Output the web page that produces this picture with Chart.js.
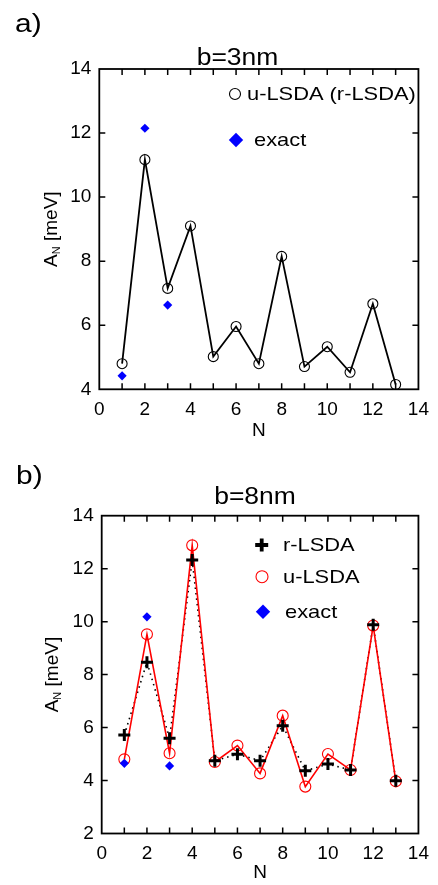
<!DOCTYPE html>
<html><head><meta charset="utf-8">
<script src="https://cdn.jsdelivr.net/npm/chart.js@4.4.0/dist/chart.umd.min.js"></script>
<style>
html,body{margin:0;padding:0;background:#fff;}
#wrap{position:relative;width:438px;height:885px;overflow:hidden;background:#fff;}
.box{position:absolute;left:0;width:438px;}
</style></head><body>
<div id="wrap">
<div class="box" style="top:0;height:440px"><canvas id="c1"></canvas></div>
<div class="box" style="top:440px;height:445px"><canvas id="c2"></canvas></div>
</div>
<script>
// ---- data ----
const nValues = [1,2,3,4,5,6,7,8,9,10,11,12,13];
const exactN = [1,2,3];
// panel a) b=3nm
const aULSDA = [4.80,11.17,7.15,9.10,5.02,5.96,4.80,8.15,4.71,5.33,4.53,6.67,4.15];
const aExact = [4.42,12.15,6.63];
// panel b) b=8nm
const bRLSDA = [5.72,8.47,5.60,12.33,4.75,4.99,4.75,6.07,4.37,4.62,4.40,9.88,3.99];
const bULSDA = [4.80,9.52,5.03,12.88,4.70,5.32,4.27,6.45,3.77,5.00,4.40,9.85,3.97];
const bExact = [4.65,10.18,4.55];
// axis ranges / labels
const xRange = [0,14];
const aYRange = [4,14];
const bYRange = [2,14];
const panelLabels = ['a)','b)'];
const panelTitles = ['b=3nm','b=8nm'];
const xTitle = 'N';
const yTitleMain = 'A', yTitleSub = 'N', yTitleUnit = ' [meV]';

const F = "'Liberation Sans', Arial, Helvetica, sans-serif";
Chart.defaults.color = '#000';
Chart.defaults.font.family = F;

const pts = (xs, ys) => xs.map((x,i)=>({x:x, y:ys[i]}));

// frame with inward ticks on all four sides
const framePlugin = {
  id:'frame',
  afterDatasetsDraw(chart){
    const {ctx, chartArea:a, scales:{x,y}} = chart;
    ctx.save();
    ctx.strokeStyle='#000';
    ctx.lineWidth=1.8;
    ctx.strokeRect(a.left, a.top, a.right-a.left, a.bottom-a.top);
    ctx.lineWidth=1.5;
    const L=6;
    ctx.beginPath();
    for (let v=x.min+1; v<x.max; v++){
      const px=x.getPixelForValue(v);
      ctx.moveTo(px,a.bottom); ctx.lineTo(px,a.bottom-L);
      ctx.moveTo(px,a.top); ctx.lineTo(px,a.top+L);
    }
    for (let v=y.min+2; v<y.max; v+=2){
      const py=y.getPixelForValue(v);
      ctx.moveTo(a.left,py); ctx.lineTo(a.left+L,py);
      ctx.moveTo(a.right,py); ctx.lineTo(a.right-L,py);
    }
    ctx.stroke();
    ctx.restore();
  }
};

function marker(ctx, type, x, y, r, color, lw){
  ctx.save();
  ctx.strokeStyle=color; ctx.fillStyle=color; ctx.lineWidth=lw;
  ctx.beginPath();
  if (type==='circle'){ ctx.arc(x,y,r,0,Math.PI*2); ctx.stroke(); }
  else if (type==='diamond'){ ctx.moveTo(x,y-r); ctx.lineTo(x+r,y); ctx.lineTo(x,y+r); ctx.lineTo(x-r,y); ctx.closePath(); ctx.fill(); }
  else if (type==='cross'){ ctx.moveTo(x-r,y); ctx.lineTo(x+r,y); ctx.moveTo(x,y-r); ctx.lineTo(x,y+r); ctx.stroke(); }
  ctx.restore();
}

// horizontally stretched text (the reference glyphs are slightly wide)
function wideText(ctx, text, x, y, font, align, sx){
  ctx.save();
  ctx.font = font;
  ctx.textBaseline = 'middle';
  ctx.textAlign = align;
  ctx.translate(x, y);
  ctx.scale(sx, 1);
  ctx.fillText(text, 0, 0);
  ctx.restore();
}

// texts + legend
const textPlugin = {
  id:'texts',
  afterDraw(chart, args, o){
    const {ctx, chartArea:a} = chart;
    ctx.save();
    ctx.fillStyle='#000';
    wideText(ctx, o.label, o.labelX, o.labelY, '26px ' + F, 'left', 1.15);
    wideText(ctx, o.title, o.titleX, o.titleY, '23px ' + F, 'center', 1.15);
    // y title with subscript
    const cy = (a.top+a.bottom)/2;
    ctx.translate(o.yTitleX, cy);
    ctx.rotate(-Math.PI/2);
    ctx.font = '19px ' + F;
    const wA = ctx.measureText(yTitleMain).width;
    const wU = ctx.measureText(yTitleUnit).width;
    ctx.font = '11px ' + F;
    const wN = ctx.measureText(yTitleSub).width;
    const tot = wA+wN+wU;
    let sx = -tot/2;
    ctx.textAlign='left';
    ctx.textBaseline='alphabetic';
    ctx.font = '19px ' + F;
    ctx.fillText(yTitleMain, sx, 7); sx+=wA;
    ctx.font = '11px ' + F;
    ctx.fillText(yTitleSub, sx, 9.5); sx+=wN;
    ctx.font = '19px ' + F;
    ctx.fillText(yTitleUnit, sx, 7);
    ctx.restore();
    // legend
    ctx.save();
    o.legend.forEach(it=>{
      marker(ctx, it.type, it.mx, it.my, it.r, it.color, it.lw);
      ctx.fillStyle='#000';
      wideText(ctx, it.text, it.tx, it.my+1, '19px ' + F, 'left', 1.15);
    });
    ctx.restore();
  }
};

function scales(yr, yWidth, xHeight, titlePadBottom){
  return {
    x:{type:'linear', min:xRange[0], max:xRange[1],
       ticks:{stepSize:2, padding:9, font:{size:19}, color:'#000', maxRotation:0},
       grid:{display:false, drawTicks:false}, border:{display:false},
       title:{display:true, text:xTitle, font:{size:19, lineHeight:1}, padding:{top:0,bottom:titlePadBottom}, color:'#000'},
       afterFit(s){ s.height = xHeight; }},
    y:{type:'linear', min:yr[0], max:yr[1],
       ticks:{stepSize:2, padding:8, font:{size:19}, color:'#000'},
       grid:{display:false, drawTicks:false}, border:{display:false},
       afterFit(s){ s.width = yWidth; }}
  };
}

new Chart(document.getElementById('c1'), {
  type:'scatter',
  data:{datasets:[
    {label:'exact', data:pts(exactN,aExact), pointStyle:'rectRot', pointRadius:4.6,
     backgroundColor:'#0000ff', borderColor:'#0000ff', borderWidth:0, showLine:false, order:0, clip:false},
    {label:'u-LSDA (r-LSDA)', data:pts(nValues,aULSDA), showLine:true, borderColor:'#000', borderWidth:1.8,
     pointStyle:'circle', pointRadius:5, pointBorderWidth:1.1, pointBorderColor:'#000', pointBackgroundColor:'rgba(0,0,0,0)',
     order:1, clip:false}
  ]},
  options:{
    responsive:true, maintainAspectRatio:false, animation:false, events:[],
    layout:{padding:{top:69, right:18.7, left:0, bottom:0}},
    plugins:{legend:{display:false}, tooltip:{enabled:false}, title:{display:false},
      texts:{label:panelLabels[0], labelX:15, labelY:25, title:panelTitles[0], titleX:237.5, titleY:59, yTitleX:50,
        legend:[
          {type:'circle', mx:235, my:94, r:5.5, color:'#000', lw:1.1, text:'u-LSDA (r-LSDA)', tx:247},
          {type:'diamond', mx:236, my:140, r:7.2, color:'#0000ff', lw:1, text:'exact', tx:254}
        ]}},
    scales:scales(aYRange, 99.3, 50.7, 0)
  },
  plugins:[framePlugin, textPlugin]
});

new Chart(document.getElementById('c2'), {
  type:'scatter',
  data:{datasets:[
    {label:'r-LSDA', data:pts(nValues,bRLSDA), showLine:false, pointStyle:'cross', pointRadius:6,
     pointBorderWidth:3, pointBorderColor:'#000', order:0, clip:false},
    {label:'exact', data:pts(exactN,bExact), pointStyle:'rectRot', pointRadius:4.6,
     backgroundColor:'#0000ff', borderColor:'#0000ff', borderWidth:0, showLine:false, order:1, clip:false},
    {label:'u-LSDA', data:pts(nValues,bULSDA), showLine:true, borderColor:'#ff0000', borderWidth:1.6,
     pointStyle:'circle', pointRadius:5.5, pointBorderWidth:1.1, pointBorderColor:'#ff0000', pointBackgroundColor:'rgba(0,0,0,0)',
     order:2, clip:false},
    {label:'r-LSDA line', data:pts(nValues,bRLSDA), showLine:true, borderColor:'#000', borderWidth:1.6,
     borderDash:[1.5,4], pointRadius:0, order:3, clip:false}
  ]},
  options:{
    responsive:true, maintainAspectRatio:false, animation:false, events:[],
    layout:{padding:{top:75.7, right:15.7, left:0, bottom:0}},
    plugins:{legend:{display:false}, tooltip:{enabled:false}, title:{display:false},
      texts:{label:panelLabels[1], labelX:16, labelY:37, title:panelTitles[1], titleX:255, titleY:58, yTitleX:51,
        legend:[
          {type:'cross', mx:261.7, my:105, r:6.5, color:'#000', lw:3.8, text:'r-LSDA', tx:283},
          {type:'circle', mx:262, my:136.7, r:6, color:'#ff0000', lw:1.1, text:'u-LSDA', tx:283},
          {type:'diamond', mx:263, my:171.7, r:7.2, color:'#0000ff', lw:1, text:'exact', tx:285}
        ]}},
    scales:scales(bYRange, 101.7, 51.5, 2.5)
  },
  plugins:[framePlugin, textPlugin]
});
</script>
</body></html>
